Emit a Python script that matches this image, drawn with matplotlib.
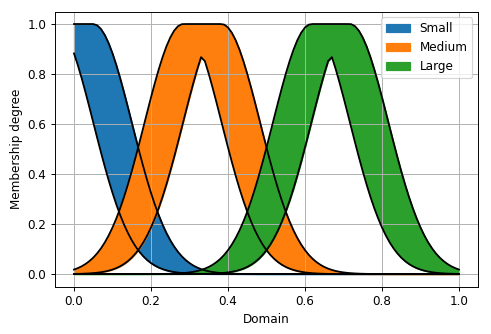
import numpy as np
import matplotlib
matplotlib.use('Agg')
from matplotlib import pyplot as plt

# interval type-2 gaussian sets (uncertain mean)
names = ['Small', 'Medium', 'Large']
centers = [0.0, 1/3, 2/3]
spread = 0.05      # half width of the uncertain mean
sigma = 0.1
colors = ['#1f77b4', '#ff7f0e', '#2ca02c']

x = np.linspace(0, 1, 101)


def gauss(x, m, s):
    return np.exp(-0.5 * ((x - m) / s) ** 2)


def it2_gauss(x, c, d, s):
    g1 = gauss(x, c - d, s)
    g2 = gauss(x, c + d, s)
    upper = np.where(x < c - d, g1, np.where(x > c + d, g2, 1.0))
    lower = np.minimum(g1, g2)
    return lower, upper


DPI = 86
fig = plt.figure(figsize=(491 / DPI, 334 / DPI), dpi=DPI)
ax = fig.add_axes([0.1115, 0.142, 0.8625, 0.8235])

ax.plot(x, np.zeros_like(x), color='k')
for name, c, col in zip(names, centers, colors):
    lo, up = it2_gauss(x, c, spread, sigma)
    ax.fill_between(x, lo, up, color=col, label=name)
    ax.plot(x, up, color='k')
    ax.plot(x, lo, color='k')

ax.set_xlabel('Domain')
ax.set_ylabel('Membership degree')
ax.grid(True)
ax.legend(loc='upper right')

plt.savefig('out.png', dpi=DPI)
